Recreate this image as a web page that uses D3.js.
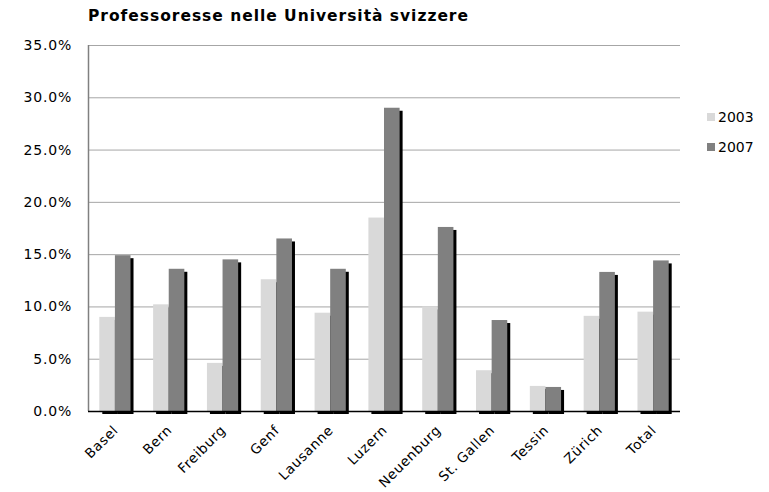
<!DOCTYPE html>
<html>
<head>
<meta charset="utf-8">
<script src="https://cdn.jsdelivr.net/npm/d3@7"></script>
<style>
  body { margin: 0; background: #fff; }
  text { font-family: "DejaVu Sans", Verdana, sans-serif; }
</style>
</head>
<body>
<div id="chart"></div>
<script>
// data
const categories = ["Basel", "Bern", "Freiburg", "Genf", "Lausanne", "Luzern", "Neuenburg", "St. Gallen", "Tessin", "Zürich", "Total"];
const years = ["2003", "2007"];
const values2003 = [9.0, 10.2, 4.6, 12.6, 9.4, 18.5, 10.0, 3.9, 2.4, 9.1, 9.5];
const values2007 = [14.9, 13.6, 14.5, 16.5, 13.6, 29.0, 17.6, 8.7, 2.3, 13.3, 14.4];
const yTicks = [0, 5, 10, 15, 20, 25, 30, 35];

const width = 769, height = 492;
const margin = {top: 45, right: 89, bottom: 81, left: 88};
const colors = {"2003": "#d9d9d9", "2007": "#808080"};

let svg = d3.select("#chart").append("svg")
  .attr("width", width)
  .attr("height", height);

let x = d3.scaleBand()
  .domain(categories)
  .range([margin.left, width - margin.right])
  .paddingInner(0.42)
  .paddingOuter(0.21);

let y = d3.scaleLinear()
  .domain([0, 35])
  .range([height - margin.bottom, margin.top]);

const barW = x.bandwidth() / 2;
const shadow = 3;

// gridlines
svg.append("g")
  .selectAll("line")
  .data(yTicks.filter(d => d > 0))
  .enter()
  .append("line")
  .attr("x1", margin.left)
  .attr("x2", width - margin.right)
  .attr("y1", d => y(d) + 0.5)
  .attr("y2", d => y(d) + 0.5)
  .attr("stroke", "#a6a6a6");

// y labels
svg.append("g")
  .selectAll("text")
  .data(yTicks)
  .enter()
  .append("text")
  .attr("x", 72)
  .attr("y", d => y(d) + 5)
  .attr("text-anchor", "end")
  .attr("font-size", 14)
  .attr("letter-spacing", 0.8)
  .attr("fill", "#000")
  .text(d => d.toFixed(1) + "%");

let rows = categories.map((c, i) => ({cat: c, v: [values2003[i], values2007[i]]}));

// shadows for each bar, offset right and down
years.forEach((yr, k) => {
  svg.append("g")
    .selectAll("rect")
    .data(rows)
    .enter()
    .append("rect")
    .attr("x", d => x(d.cat) + k * barW + shadow)
    .attr("y", d => y(d.v[k]) + shadow)
    .attr("width", barW)
    .attr("height", d => y(0) - y(d.v[k]))
    .attr("fill", "#000");
});

// bars
years.forEach((yr, k) => {
  svg.append("g")
    .selectAll("rect")
    .data(rows)
    .enter()
    .append("rect")
    .attr("x", d => x(d.cat) + k * barW)
    .attr("y", d => y(d.v[k]))
    .attr("width", barW)
    .attr("height", d => y(0) - y(d.v[k]))
    .attr("fill", colors[yr]);
});

// axes lines
svg.append("line")
  .attr("x1", margin.left + 0.5).attr("x2", margin.left + 0.5)
  .attr("y1", margin.top).attr("y2", y(0))
  .attr("stroke", "#808080").attr("stroke-width", 1.5);

svg.append("line")
  .attr("x1", margin.left).attr("x2", width - margin.right)
  .attr("y1", y(0) + 0.5).attr("y2", y(0) + 0.5)
  .attr("stroke", "#000").attr("stroke-width", 1.5);

// x labels
svg.append("g")
  .selectAll("text")
  .data(categories)
  .enter()
  .append("text")
  .attr("transform", d => `translate(${x(d) + x.bandwidth() / 2 + 4}, ${y(0) + 20}) rotate(-45)`)
  .attr("text-anchor", "end")
  .attr("font-size", 13.5)
  .attr("letter-spacing", 0.7)
  .text(d => d);

// title
svg.append("text")
  .attr("x", margin.left)
  .attr("y", 21)
  .attr("font-size", 15.5)
  .attr("font-weight", "bold")
  .attr("textLength", 380)
  .attr("lengthAdjust", "spacing")
  .text("Professoresse nelle Università svizzere");

// legend
let legend = svg.append("g").selectAll("g")
  .data(years)
  .enter()
  .append("g")
  .attr("transform", (d, i) => `translate(707, ${113 + i * 30})`);

legend.append("rect")
  .attr("width", 8).attr("height", 8)
  .attr("fill", d => colors[d]);

legend.append("text")
  .attr("x", 11).attr("y", 9)
  .attr("font-size", 14)
  .text(d => d);
</script>
</body>
</html>
